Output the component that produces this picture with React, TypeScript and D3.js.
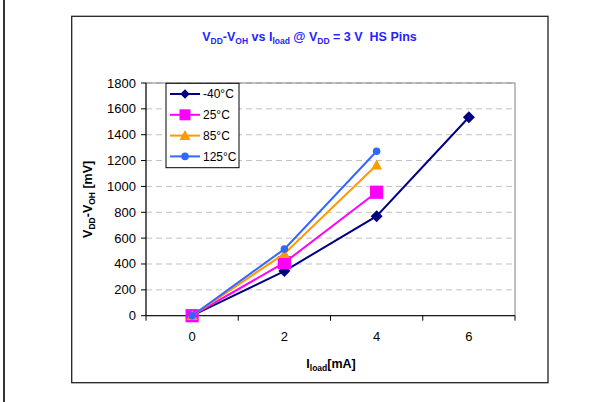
import React from "react";
import * as d3 from "d3";

const categories = ["0", "2", "4", "6"];
const yTicks = [0, 200, 400, 600, 800, 1000, 1200, 1400, 1600, 1800];
const seriesNames = ["-40°C", "25°C", "85°C", "125°C"];
const valsM40 = [0, 345, 770, 1535];
const vals25 = [0, 410, 955, null];
const vals85 = [0, 480, 1165, null];
const vals125 = [0, 515, 1272, null];
const colors = ["#000080", "#FF00FF", "#FF9900", "#3366FF"];
const markers = ["diamond", "square", "triangle", "circle"];

const FONT = "'Liberation Sans', Arial, sans-serif";

function Marker({ type, x, y, color, s }: { type: string; x: number; y: number; color: string; s: number }) {
  if (type === "diamond") {
    const r = s * 0.6;
    return <path d={`M${x},${y - r}L${x + r},${y}L${x},${y + r}L${x - r},${y}Z`} fill={color} />;
  }
  if (type === "square") {
    const r = s * 0.55;
    return <rect x={x - r} y={y - r} width={2 * r} height={2 * r} fill={color} />;
  }
  if (type === "triangle") {
    const r = s * 0.55;
    return <path d={`M${x},${y - r}L${x + r},${y + r * 0.8}L${x - r},${y + r * 0.8}Z`} fill={color} />;
  }
  return <circle cx={x} cy={y} r={s * 0.42} fill={color} />;
}

export default function App() {
  const left = 146, right = 515, top = 83, bottom = 315.7;
  const x = d3.scaleBand<string>().domain(categories).range([left, right]).padding(0);
  const y = d3.scaleLinear().domain([0, 1800]).range([bottom, top]);
  const cx = (c: string) => (x(c) as number) + x.bandwidth() / 2;

  const allSeries = [valsM40, vals25, vals85, vals125];
  const markerSizes = [10, 12, 10, 9];
  const line = d3
    .line<[string, number | null]>()
    .defined((d) => d[1] !== null)
    .x((d) => cx(d[0]))
    .y((d) => y(d[1] as number));

  const bounds = [...categories.map((c) => x(c) as number), right];

  return (
    <svg width={614} height={402} style={{ position: "absolute", left: 0, top: 0, background: "#fff" }}>
      <rect x={0} y={0} width={614} height={402} fill="#fff" />
      <line x1={4} y1={0} x2={4} y2={402} stroke="#000" strokeWidth={1.6} />
      <rect x={71.7} y={16.3} width={476.3} height={366.4} fill="#fff" stroke="#222" strokeWidth={1.3} />

      {/* title */}
      <text x={309.5} y={41} textAnchor="middle" fontFamily={FONT} fontWeight="bold" fontSize={12.5} fill="#2424FF">
        <tspan>V</tspan>
        <tspan fontSize={8.5} dy={3}>DD</tspan>
        <tspan dy={-3}>-V</tspan>
        <tspan fontSize={8.5} dy={3}>OH</tspan>
        <tspan dy={-3}> vs I</tspan>
        <tspan fontSize={8.5} dy={3}>load</tspan>
        <tspan dy={-3}> @ V</tspan>
        <tspan fontSize={8.5} dy={3}>DD</tspan>
        <tspan dy={-3}>{"\u00a0= 3 V\u00a0\u00a0HS Pins"}</tspan>
      </text>

      {/* gridlines */}
      {yTicks.filter((t) => t > 0).map((t) => (
        <line key={t} x1={left} x2={right} y1={y(t)} y2={y(t)} stroke="#C0C0C0" strokeWidth={1} strokeDasharray="6,4" />
      ))}
      {/* plot border */}
      <rect x={left} y={top} width={right - left} height={bottom - top} fill="none" stroke="#808080" strokeWidth={1} />
      {/* axes */}
      <line x1={left} x2={left} y1={top} y2={bottom} stroke="#000" strokeWidth={1} />
      <line x1={left} x2={right} y1={bottom} y2={bottom} stroke="#000" strokeWidth={1} />
      {yTicks.map((t) => (
        <g key={t}>
          <line x1={left - 5} x2={left} y1={y(t)} y2={y(t)} stroke="#000" />
          <text x={left - 10} y={y(t) + 4.5} textAnchor="end" fontFamily={FONT} fontSize={13} fill="#000">
            {t}
          </text>
        </g>
      ))}
      {bounds.map((b, i) => (
        <line key={i} x1={b} x2={b} y1={bottom} y2={bottom + 5} stroke="#000" />
      ))}
      {categories.map((c) => (
        <text key={c} x={cx(c)} y={bottom + 25.5} textAnchor="middle" fontFamily={FONT} fontSize={13} fill="#000">
          {c}
        </text>
      ))}

      {/* axis titles */}
      <text x={331} y={368} textAnchor="middle" fontFamily={FONT} fontWeight="bold" fontSize={12.5} fill="#000">
        <tspan>I</tspan>
        <tspan fontSize={8.5} dy={2.5}>load</tspan>
        <tspan dy={-2.5}>[mA]</tspan>
      </text>
      <text
        transform={`translate(92, ${(top + bottom) / 2}) rotate(-90)`}
        textAnchor="middle"
        fontFamily={FONT}
        fontWeight="bold"
        fontSize={12.5}
        fill="#000"
      >
        <tspan>V</tspan>
        <tspan fontSize={8.5} dy={2.5}>DD</tspan>
        <tspan dy={-2.5}>-V</tspan>
        <tspan fontSize={8.5} dy={2.5}>OH</tspan>
        <tspan dy={-2.5}> [mV]</tspan>
      </text>

      {/* series */}
      {allSeries.map((vals, si) => {
        const pts = categories.map((c, i) => [c, vals[i]] as [string, number | null]);
        return (
          <g key={si}>
            <path d={line(pts) || ""} fill="none" stroke={colors[si]} strokeWidth={2} />
            {pts
              .filter((p) => p[1] !== null)
              .map((p, i) => (
                <Marker key={i} type={markers[si]} x={cx(p[0])} y={y(p[1] as number)} color={colors[si]} s={markerSizes[si]} />
              ))}
          </g>
        );
      })}

      {/* legend */}
      <rect x={166} y={83.3} width={73} height={84.4} fill="#fff" stroke="#000" strokeWidth={1} />
      {seriesNames.map((n, i) => {
        const ly = 94 + i * 20.8;
        return (
          <g key={n}>
            <line x1={170} x2={200} y1={ly} y2={ly} stroke={colors[i]} strokeWidth={2} />
            <Marker type={markers[i]} x={185} y={ly} color={colors[i]} s={[8, 10, 10, 9][i]} />
            <text x={203} y={ly + 4.3} fontFamily={FONT} fontSize={12} fill="#000">
              {n}
            </text>
          </g>
        );
      })}
    </svg>
  );
}
